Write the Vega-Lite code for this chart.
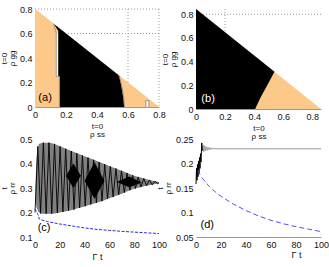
{
"$schema": "https://vega.github.io/schema/vega-lite/v6.json",
"padding": {"left": 0, "top": 5, "right": 0, "bottom": 0},
"columns": 2,
"spacing": {"row": 30, "column": 37},
"bounds": "flush",
"config": {
  "view": {"stroke": null},
  "axis": {"labelFont": "Liberation Sans", "labelFontSize": 9, "labelColor": "#111", "labelOverlap": false, "labelFlush": false, "titleFont": "Liberation Sans", "titleFontSize": 8, "titleLineHeight": 8, "titleFontWeight": "normal", "titleColor": "#111", "ticks": false, "grid": false, "domain": false, "labelPadding": 3, "titlePadding": 3, "zindex": 1},
  "text": {"font": "Liberation Sans"}
},
"concat": [
{
  "width": 124, "height": 98,
  "layer": [
    {"data": {"values": [{"x": 0, "y": 0.8}, {"x": 0.8, "y": 0}]}, "mark": {"type": "area", "color": "#FDC98A"},
     "encoding": {
       "x": {"field": "x", "type": "quantitative", "scale": {"domain": [0, 0.8], "nice": false}, "axis": {"values": [0, 0.2, 0.4, 0.6, 0.8], "tickCount": 10, "format": "~g", "title": ["t=0", "ρ ss"], "domain": true, "domainColor": "#999"}},
       "y": {"field": "y", "type": "quantitative", "stack": null, "scale": {"domain": [0, 0.8], "nice": false}, "axis": {"values": [0, 0.2, 0.4, 0.6, 0.8], "tickCount": 10, "format": "~g", "title": ["t=0", "ρ gg"], "domain": true, "domainColor": "#999"}}}},
    {"data": {"values": [{"x": 0.6}, {"x": 0.8}]}, "mark": {"type": "rule", "color": "#999", "strokeDash": [1, 2], "strokeWidth": 1},
     "encoding": {"x": {"field": "x", "type": "quantitative"}}},
    {"data": {"values": [{"y": 0.6}, {"y": 0.8}]}, "mark": {"type": "rule", "color": "#999", "strokeDash": [1, 2], "strokeWidth": 1},
     "encoding": {"y": {"field": "y", "type": "quantitative"}}},
    {"data": {"values": [{"x": 0, "y": 0.8}, {"x": 0.8, "y": 0}]}, "mark": {"type": "area", "color": "#FDC98A"},
     "encoding": {"x": {"field": "x", "type": "quantitative"}, "y": {"field": "y", "type": "quantitative", "stack": null}}},
    {"data": {"values": [{"y": 0.25, "x": 0.137, "x2": 0.15}, {"y": 0.6, "x": 0.137, "x2": 0.15}]}, "mark": {"type": "area", "orient": "horizontal", "color": "white"},
     "encoding": {"y": {"field": "y", "type": "quantitative"}, "x": {"field": "x", "type": "quantitative"}, "x2": {"field": "x2"}}},
    {"data": {"values": [{"y": 0, "x": 0.717, "x2": 0.733}, {"y": 0.05, "x": 0.717, "x2": 0.733}]}, "mark": {"type": "area", "orient": "horizontal", "color": "white"},
     "encoding": {"y": {"field": "y", "type": "quantitative"}, "x": {"field": "x", "type": "quantitative"}, "x2": {"field": "x2"}}},
    {"data": {"values": [
       {"y": 0, "x": 0.16, "x2": 0.575},
       {"y": 0.07, "x": 0.16, "x2": 0.57},
       {"y": 0.13, "x": 0.16, "x2": 0.563},
       {"y": 0.2, "x": 0.16, "x2": 0.552},
       {"y": 0.25, "x": 0.16, "x2": 0.545},
       {"y": 0.251, "x": 0.15, "x2": 0.544},
       {"y": 0.262, "x": 0.15, "x2": 0.538},
       {"y": 0.62, "x": 0.15, "x2": 0.18},
       {"y": 0.678, "x": 0.122, "x2": 0.122}]},
     "mark": {"type": "area", "orient": "horizontal", "color": "black"},
     "encoding": {"y": {"field": "y", "type": "quantitative"}, "x": {"field": "x", "type": "quantitative"}, "x2": {"field": "x2"}}},
    {"data": {"values": [
       {"s": "L", "i": 0, "x": 0.157, "y": 0}, {"s": "L", "i": 1, "x": 0.157, "y": 0.25}, {"s": "L", "i": 2, "x": 0.137, "y": 0.25},
       {"s": "L", "i": 3, "x": 0.137, "y": 0.6}, {"s": "L", "i": 4, "x": 0.13, "y": 0.63}, {"s": "L", "i": 5, "x": 0.12, "y": 0.68},
       {"s": "R", "i": 0, "x": 0.578, "y": 0}, {"s": "R", "i": 1, "x": 0.573, "y": 0.07}, {"s": "R", "i": 2, "x": 0.566, "y": 0.13},
       {"s": "R", "i": 3, "x": 0.555, "y": 0.2}, {"s": "R", "i": 4, "x": 0.54, "y": 0.262},
       {"s": "B", "i": 0, "x": 0.715, "y": 0}, {"s": "B", "i": 1, "x": 0.715, "y": 0.052}, {"s": "B", "i": 2, "x": 0.735, "y": 0.052}, {"s": "B", "i": 3, "x": 0.735, "y": 0}]},
     "mark": {"type": "line", "color": "#888", "strokeWidth": 0.8},
     "encoding": {"x": {"field": "x", "type": "quantitative"}, "y": {"field": "y", "type": "quantitative"}, "detail": {"field": "s"}, "order": {"field": "i"}}},
    {"data": {"values": [{"x": 0.065, "y": 0.073, "label": "(a)"}]}, "mark": {"type": "text", "fontSize": 11, "color": "black"},
     "encoding": {"x": {"field": "x", "type": "quantitative"}, "y": {"field": "y", "type": "quantitative"}, "text": {"field": "label"}}}
  ]
},
{
  "width": 125, "height": 100,
  "layer": [
    {"data": {"values": [{"x": 0, "y": 0.845}, {"x": 0.86, "y": 0}]}, "mark": {"type": "area", "color": "#FDC98A", "opacity": 0},
     "encoding": {
       "x": {"field": "x", "type": "quantitative", "scale": {"domain": [0, 0.86], "nice": false}, "axis": {"values": [0, 0.2, 0.4, 0.6, 0.8], "tickCount": 10, "format": "~g", "title": ["t=0", "ρ ss"], "domain": true, "domainColor": "#999"}},
       "y": {"field": "y", "type": "quantitative", "stack": null, "scale": {"domain": [0, 0.845], "nice": false}, "axis": {"values": [0, 0.2, 0.4, 0.6, 0.8], "tickCount": 10, "format": "~g", "title": ["t=0", "ρ gg"], "domain": true, "domainColor": "#999"}}}},
    {"data": {"values": [{"x": 0.2}]}, "mark": {"type": "rule", "color": "#999", "strokeDash": [1, 2], "strokeWidth": 1},
     "encoding": {"x": {"field": "x", "type": "quantitative"}}},
    {"data": {"values": [{"y": 0.8}]}, "mark": {"type": "rule", "color": "#999", "strokeDash": [1, 2], "strokeWidth": 1},
     "encoding": {"y": {"field": "y", "type": "quantitative"}}},
    {"data": {"values": [{"x": 0, "y": 0.845}, {"x": 0.86, "y": 0}]}, "mark": {"type": "area", "color": "#FDC98A"},
     "encoding": {"x": {"field": "x", "type": "quantitative"}, "y": {"field": "y", "type": "quantitative", "stack": null}}},
    {"data": {"values": [
       {"y": 0, "x": 0, "x2": 0.407},
       {"y": 0.1, "x": 0, "x2": 0.445},
       {"y": 0.2, "x": 0, "x2": 0.49},
       {"y": 0.314, "x": 0, "x2": 0.54},
       {"y": 0.845, "x": 0, "x2": 0}]},
     "mark": {"type": "area", "orient": "horizontal", "color": "black"},
     "encoding": {"y": {"field": "y", "type": "quantitative"}, "x": {"field": "x", "type": "quantitative"}, "x2": {"field": "x2"}}},
    {"data": {"values": [{"x": 0.083, "y": 0.084, "label": "(b)"}]}, "mark": {"type": "text", "fontSize": 11, "color": "white"},
     "encoding": {"x": {"field": "x", "type": "quantitative"}, "y": {"field": "y", "type": "quantitative"}, "text": {"field": "label"}}}
  ]
},
{
  "width": 124, "height": 98,
  "layer": [
    {"data": {"values": [
       {"t": 0.3, "v2": 0.25, "v": 0.3}, {"t": 1.2, "v2": 0.22, "v": 0.42}, {"t": 3, "v2": 0.2, "v": 0.48},
       {"t": 6, "v2": 0.195, "v": 0.485}, {"t": 12, "v2": 0.195, "v": 0.485}, {"t": 16, "v2": 0.196, "v": 0.48},
       {"t": 20, "v2": 0.2, "v": 0.47}, {"t": 25, "v2": 0.205, "v": 0.46}, {"t": 30, "v2": 0.21, "v": 0.45},
       {"t": 35, "v2": 0.218, "v": 0.44}, {"t": 40, "v2": 0.225, "v": 0.43}, {"t": 45, "v2": 0.233, "v": 0.42},
       {"t": 50, "v2": 0.24, "v": 0.41}, {"t": 55, "v2": 0.248, "v": 0.4}, {"t": 60, "v2": 0.258, "v": 0.39},
       {"t": 65, "v2": 0.267, "v": 0.38}, {"t": 70, "v2": 0.277, "v": 0.37}, {"t": 75, "v2": 0.288, "v": 0.36},
       {"t": 80, "v2": 0.297, "v": 0.35}, {"t": 85, "v2": 0.303, "v": 0.343}, {"t": 90, "v2": 0.309, "v": 0.336},
       {"t": 95, "v2": 0.314, "v": 0.33}, {"t": 100, "v2": 0.318, "v": 0.325}]},
     "mark": {"type": "area", "color": "#808080"},
     "encoding": {
       "x": {"field": "t", "type": "quantitative", "scale": {"domain": [0, 100], "nice": false}, "axis": {"values": [0, 20, 40, 60, 80, 100], "tickCount": 10, "title": "Γ t", "titleFontSize": 9}},
       "y": {"field": "v", "type": "quantitative", "scale": {"domain": [0.1, 0.5], "nice": false, "zero": false}, "axis": {"values": [0.1, 0.2, 0.3, 0.4, 0.5], "tickCount": 10, "format": "~g", "title": ["t", "ρ rr"]}},
       "y2": {"field": "v2"}}},
    {"data": {"values": [
       {"d": 1, "t": 25, "v2": 0.35, "v": 0.35}, {"d": 1, "t": 31, "v2": 0.3, "v": 0.4}, {"d": 1, "t": 37, "v2": 0.35, "v": 0.35},
       {"d": 2, "t": 40, "v2": 0.33, "v": 0.33}, {"d": 2, "t": 48, "v2": 0.255, "v": 0.405}, {"d": 2, "t": 56, "v2": 0.33, "v": 0.33},
       {"d": 3, "t": 66, "v2": 0.325, "v": 0.325}, {"d": 3, "t": 76, "v2": 0.303, "v": 0.347}, {"d": 3, "t": 86, "v2": 0.322, "v": 0.322}]},
     "mark": {"type": "area", "color": "black"},
     "encoding": {"x": {"field": "t", "type": "quantitative"}, "y": {"field": "v", "type": "quantitative"}, "y2": {"field": "v2"}, "detail": {"field": "d"}}},
    {"data": {"values": [
       {"t": 0, "v": 0.2}, {"t": 2.25, "v": 0.47}, {"t": 4.5, "v": 0.196}, {"t": 6.75, "v": 0.485}, {"t": 9.0, "v": 0.195},
       {"t": 11.25, "v": 0.485}, {"t": 13.5, "v": 0.195}, {"t": 15.75, "v": 0.48}, {"t": 18.0, "v": 0.198}, {"t": 20.25, "v": 0.47},
       {"t": 22.5, "v": 0.202}, {"t": 24.75, "v": 0.46}, {"t": 27.0, "v": 0.207}, {"t": 29.25, "v": 0.451}, {"t": 31.5, "v": 0.212},
       {"t": 33.75, "v": 0.442}, {"t": 36.0, "v": 0.219}, {"t": 38.25, "v": 0.433}, {"t": 40.5, "v": 0.226}, {"t": 42.75, "v": 0.424},
       {"t": 45.0, "v": 0.233}, {"t": 47.25, "v": 0.415}, {"t": 49.5, "v": 0.239}, {"t": 51.75, "v": 0.406}, {"t": 54.0, "v": 0.246},
       {"t": 56.25, "v": 0.397}, {"t": 58.5, "v": 0.255}, {"t": 60.75, "v": 0.388}, {"t": 63.0, "v": 0.263}, {"t": 65.25, "v": 0.38},
       {"t": 67.5, "v": 0.272}, {"t": 69.75, "v": 0.37}, {"t": 72.0, "v": 0.281}, {"t": 74.25, "v": 0.361}, {"t": 76.5, "v": 0.291},
       {"t": 78.75, "v": 0.352}, {"t": 81.0, "v": 0.298}, {"t": 83.25, "v": 0.345}, {"t": 85.5, "v": 0.304}, {"t": 87.75, "v": 0.339},
       {"t": 90.0, "v": 0.309}, {"t": 92.25, "v": 0.333}, {"t": 94.5, "v": 0.313}, {"t": 96.75, "v": 0.328}, {"t": 99.0, "v": 0.317},
       {"t": 100, "v": 0.322}]},
     "mark": {"type": "line", "color": "black", "strokeWidth": 0.9},
     "encoding": {"x": {"field": "t", "type": "quantitative"}, "y": {"field": "v", "type": "quantitative"}}},
    {"data": {"values": [
       {"t": 0, "v": 0.215}, {"t": 1, "v": 0.205}, {"t": 2, "v": 0.195}, {"t": 2.8, "v": 0.188}, {"t": 3.2, "v": 0.175},
       {"t": 5, "v": 0.17}, {"t": 10, "v": 0.163}, {"t": 20, "v": 0.153}, {"t": 30, "v": 0.145}, {"t": 40, "v": 0.137},
       {"t": 50, "v": 0.131}, {"t": 60, "v": 0.127}, {"t": 70, "v": 0.123}, {"t": 80, "v": 0.12}, {"t": 90, "v": 0.117}, {"t": 100, "v": 0.114}]},
     "mark": {"type": "line", "color": "#2a2af0", "strokeWidth": 1, "strokeDash": [3, 1.5]},
     "encoding": {"x": {"field": "t", "type": "quantitative"}, "y": {"field": "v", "type": "quantitative"}}},
    {"data": {"values": [{"t": 7.3, "v": 0.137, "label": "(c)"}]}, "mark": {"type": "text", "fontSize": 11, "color": "black"},
     "encoding": {"x": {"field": "t", "type": "quantitative"}, "y": {"field": "v", "type": "quantitative"}, "text": {"field": "label"}}}
  ]
},
{
  "width": 125, "height": 98,
  "layer": [
    {"data": {"values": [
       {"t": 5.0, "v": 0.226}, {"t": 5.6, "v": 0.238}, {"t": 6.3, "v": 0.224}, {"t": 7.0, "v": 0.236}, {"t": 7.8, "v": 0.226},
       {"t": 8.6, "v": 0.234}, {"t": 9.4, "v": 0.227}, {"t": 10.2, "v": 0.233}, {"t": 11, "v": 0.228}, {"t": 11.8, "v": 0.232},
       {"t": 12.6, "v": 0.229}, {"t": 13.5, "v": 0.231}, {"t": 15, "v": 0.23}, {"t": 100, "v": 0.23}]},
     "mark": {"type": "line", "color": "#999", "strokeWidth": 1},
     "encoding": {
       "x": {"field": "t", "type": "quantitative", "scale": {"domain": [0, 100], "nice": false}, "axis": {"values": [0, 20, 40, 60, 80, 100], "tickCount": 10, "title": "Γ t", "titleFontSize": 9, "titleX": 100, "titleY": 13, "titleBaseline": "top", "domain": true, "domainColor": "#999"}},
       "y": {"field": "v", "type": "quantitative", "scale": {"domain": [0.05, 0.25], "nice": false, "zero": false}, "axis": {"values": [0.05, 0.1, 0.15, 0.2, 0.25], "tickCount": 10, "format": "~g", "title": ["t", "ρ rr"]}}}},
    {"data": {"values": [
       {"t": 0, "v": 0.158}, {"t": 0.4, "v": 0.19}, {"t": 0.8, "v": 0.166}, {"t": 1.2, "v": 0.198}, {"t": 1.6, "v": 0.173},
       {"t": 2.0, "v": 0.205}, {"t": 2.4, "v": 0.18}, {"t": 2.8, "v": 0.212}, {"t": 3.2, "v": 0.19}, {"t": 3.6, "v": 0.22},
       {"t": 4.0, "v": 0.203}, {"t": 4.6, "v": 0.242}, {"t": 5.0, "v": 0.226}]},
     "mark": {"type": "line", "color": "black", "strokeWidth": 1},
     "encoding": {"x": {"field": "t", "type": "quantitative"}, "y": {"field": "v", "type": "quantitative"}}},
    {"data": {"values": [
       {"t": 1.5, "v": 0.186}, {"t": 3, "v": 0.178}, {"t": 5, "v": 0.17}, {"t": 10, "v": 0.155}, {"t": 15, "v": 0.143},
       {"t": 20, "v": 0.133}, {"t": 30, "v": 0.117}, {"t": 40, "v": 0.104}, {"t": 50, "v": 0.093}, {"t": 60, "v": 0.084},
       {"t": 70, "v": 0.077}, {"t": 80, "v": 0.071}, {"t": 90, "v": 0.066}, {"t": 100, "v": 0.061}]},
     "mark": {"type": "line", "color": "#5050f0", "strokeWidth": 1, "strokeDash": [5, 3]},
     "encoding": {"x": {"field": "t", "type": "quantitative"}, "y": {"field": "v", "type": "quantitative"}}},
    {"data": {"values": [{"t": 9, "v": 0.0745, "label": "(d)"}]}, "mark": {"type": "text", "fontSize": 11, "color": "black"},
     "encoding": {"x": {"field": "t", "type": "quantitative"}, "y": {"field": "v", "type": "quantitative"}, "text": {"field": "label"}}}
  ]
}
]
}
